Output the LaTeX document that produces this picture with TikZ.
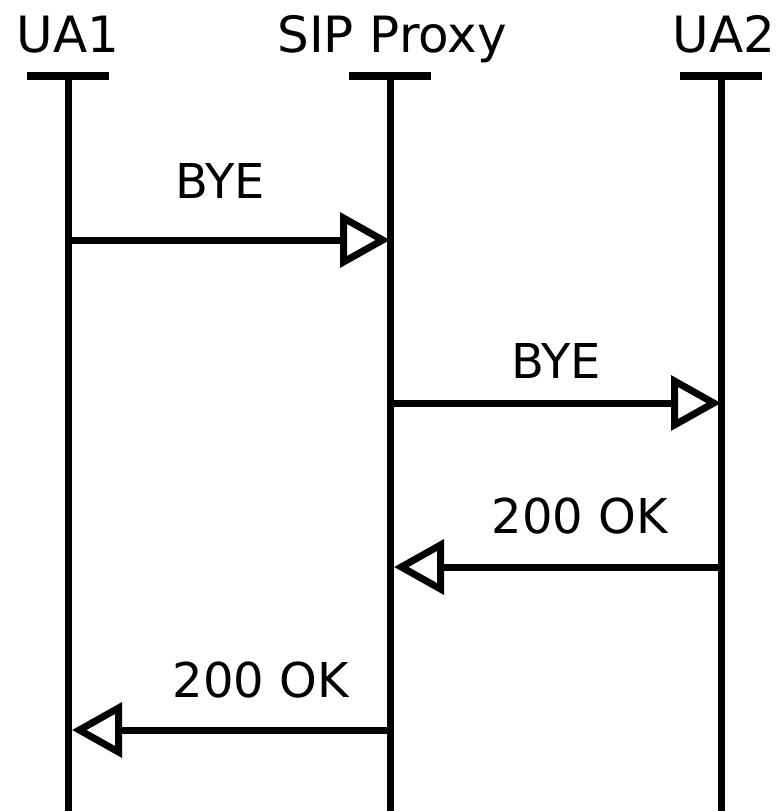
\documentclass[tikz,border=0pt]{standalone}
\usepackage{fontspec}
\setmainfont{DejaVu Sans}
\usepackage{xcolor}
\usepackage{tikz}
\usetikzlibrary{calc,arrows.meta}
\definecolor{bg}{HTML}{FFFFFF}
\definecolor{ink}{HTML}{000000}
\tikzset{
  life/.style={draw=ink, line width=3.5pt},
  bar/.style={draw=ink, line width=4pt},
  msg/.style={draw=ink, line width=3.5pt, -{Triangle[open, length=25pt, width=27pt]}},
  head/.style={text=ink, font=\fontsize{25}{30}\selectfont, inner sep=0pt, anchor=base},
  lab/.style={text=ink, font=\fontsize{24}{29}\selectfont, inner sep=0pt, anchor=base},
}

\begin{document}
\begin{tikzpicture}[x=0.5pt,y=-0.5pt]
  \fill[bg] (0,0) rectangle (776,811);
  \useasboundingbox (0,0) rectangle (776,811);

  % lifeline heads
  \node[head] (ua1) at (68,52) {UA1};
  \node[head] (proxy) at (392,52) {SIP Proxy};
  \node[head] (ua2) at (724,52) {UA2};

  \coordinate (ua1top) at (68,76);
  \coordinate (proxytop) at (390,76);
  \coordinate (ua2top) at (721,76);
  \coordinate (ua1end) at (68,811);
  \coordinate (proxyend) at (390,811);
  \coordinate (ua2end) at (721,811);

  \draw[bar] ($(ua1top)+(-41,0)$) -- ($(ua1top)+(41,0)$);
  \draw[bar] ($(proxytop)+(-41,0)$) -- ($(proxytop)+(41,0)$);
  \draw[bar] ($(ua2top)+(-41,0)$) -- ($(ua2top)+(41,0)$);

  \draw[life] (ua1top) -- (ua1end);
  \draw[life] (proxytop) -- (proxyend);
  \draw[life] (ua2top) -- (ua2end);

  % message points
  \coordinate (ua1-1) at (68,240);
  \coordinate (proxy-1) at (390,240);
  \coordinate (proxy-2) at (390,403);
  \coordinate (ua2-2) at (721,403);
  \coordinate (ua2-3) at (721,567);
  \coordinate (proxy-3) at (394,567);
  \coordinate (proxy-4) at (390,730);
  \coordinate (ua1-4) at (72,730);

  \draw[msg] (ua1-1) -- (proxy-1);
  \node[lab] (bye1) at (220,198) {BYE};

  \draw[msg] (proxy-2) -- (ua2-2);
  \node[lab] (bye2) at (556,378) {BYE};

  \draw[msg] (ua2-3) -- (proxy-3);
  \node[lab] (ok1) at (580,533) {200 OK};

  \draw[msg] (proxy-4) -- (ua1-4);
  \node[lab] (ok2) at (261,697) {200 OK};
\end{tikzpicture}
\end{document}
